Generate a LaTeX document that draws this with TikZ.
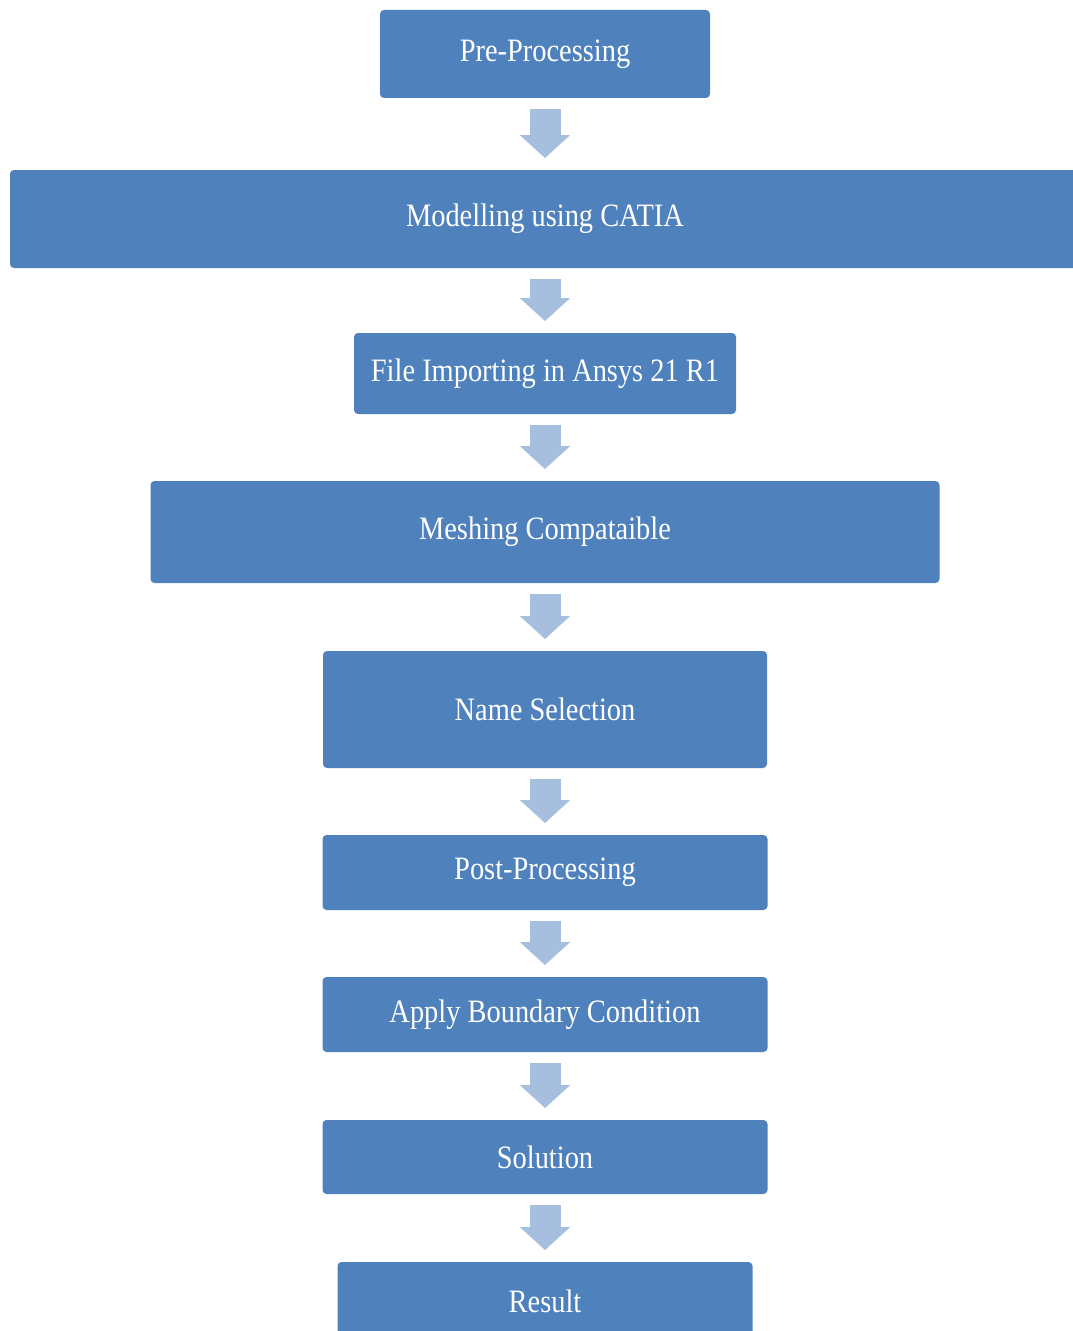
\documentclass[tikz,border=0pt]{standalone}
\usepackage{fontspec}
\newfontfamily\stepfont{Liberation Serif}[FakeStretch=0.87]
\usetikzlibrary{arrows.meta}
\definecolor{boxblue}{HTML}{4F81BD}
\definecolor{arrowblue}{HTML}{A7BFDE}

\begin{document}
\begin{tikzpicture}[x=0.75pt, y=-0.75pt,
    stage/.style = {shape=rectangle, fill=boxblue, text=white,
      inner sep=0pt, rounded corners=3pt,
      font=\stepfont\fontsize{24.5}{28}\selectfont},
    flow/.style = {draw=arrowblue, line width=23.25pt,
      shorten <=8.25pt, shorten >=8.75pt,
      -{Triangle[width=36.75pt, length=17.25pt]}}]
  \useasboundingbox (0,0) rectangle (1073,1331);
  \node[stage, minimum width=247.5pt, minimum height=66pt] (pre) at (545,54) {Pre-Processing};
  \node[stage, minimum width=802.5pt, minimum height=73.5pt] (model) at (545,219) {Modelling using CATIA};
  \node[stage, minimum width=286.5pt, minimum height=60.75pt] (import) at (545,373.5) {File Importing in Ansys 21 R1};
  \node[stage, minimum width=591.75pt, minimum height=76.5pt] (mesh) at (545,532) {Meshing Compataible};
  \node[stage, minimum width=333pt, minimum height=87.75pt] (names) at (545,709.5) {Name Selection};
  \node[stage, minimum width=333.75pt, minimum height=56.25pt] (post) at (545,872.5) {Post-Processing};
  \node[stage, minimum width=333.75pt, minimum height=56.25pt] (bc) at (545,1014.5) {Apply Boundary Condition};
  \node[stage, minimum width=333.75pt, minimum height=55.5pt] (sol) at (545,1157) {Solution};
  \node[stage, minimum width=311.25pt, minimum height=58.5pt] (res) at (545,1301) {Result};
  % arrows between the stages
  \foreach \a/\b in {pre/model, model/import, import/mesh, mesh/names,
      names/post, post/bc, bc/sol, sol/res}
    \draw[flow] (\a) -- (\b);
\end{tikzpicture}
\end{document}
